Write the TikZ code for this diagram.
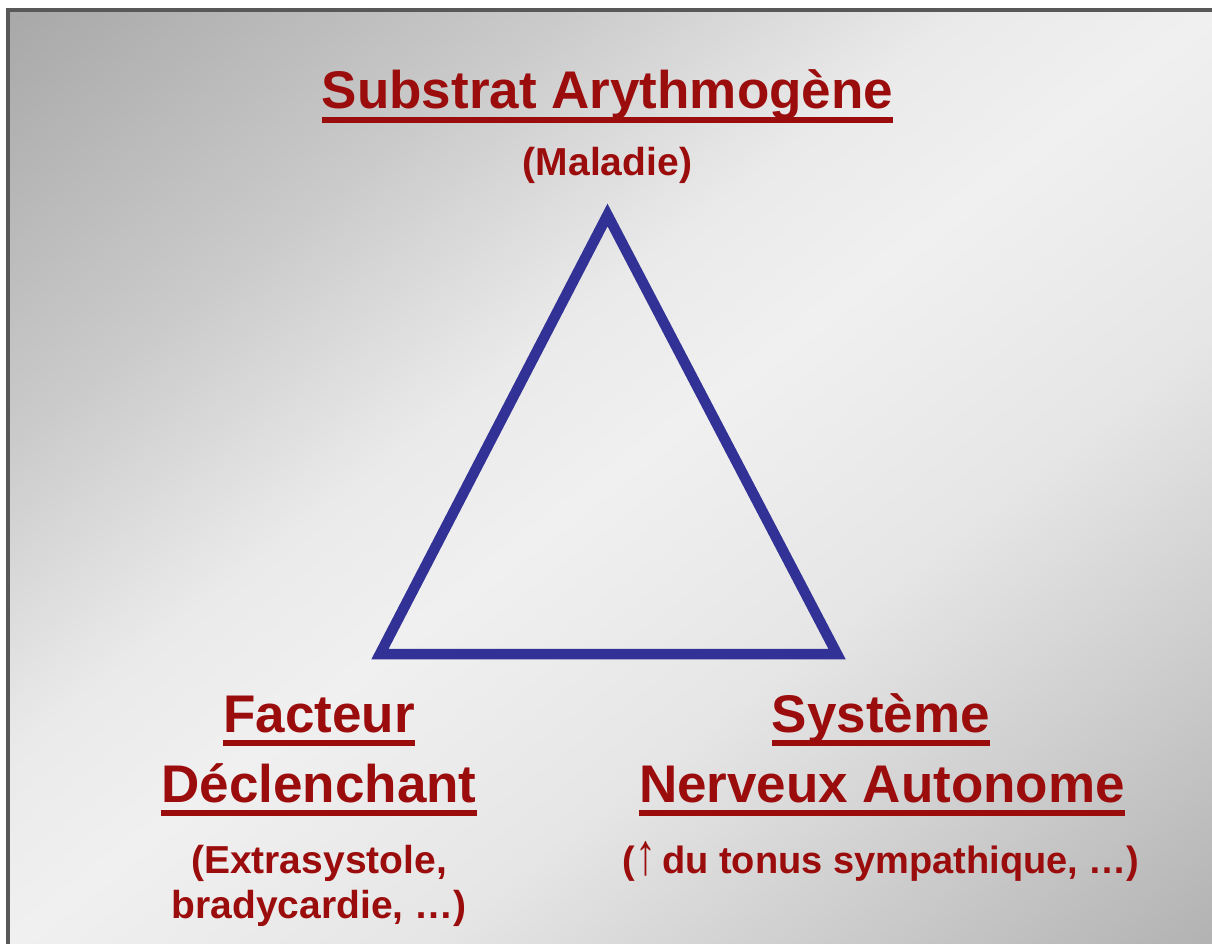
\documentclass[tikz,border=0pt]{standalone}
\usepackage{fontspec}
\setmainfont{Liberation Sans}
\definecolor{txtred}{RGB}{155,12,12}
\definecolor{triblue}{RGB}{50,50,150}
\definecolor{framegray}{RGB}{88,88,88}
\definecolor{g0}{RGB}{160,160,160}
\definecolor{g1}{RGB}{168,168,168}
\definecolor{g2}{RGB}{178,178,178}
\definecolor{g3}{RGB}{204,204,204}
\definecolor{g4}{RGB}{230,230,230}
\definecolor{g5}{RGB}{240,240,240}
\definecolor{g6}{RGB}{234,234,234}
\definecolor{g7}{RGB}{202,202,202}
\pgfdeclareverticalshading{slidebg}{2000bp}{color(0bp)=(g1); color(264bp)=(g2); color(500bp)=(g3); color(750bp)=(g4); color(1000bp)=(g5); color(1150bp)=(g6); color(1400bp)=(g7); color(1736bp)=(g1); color(2000bp)=(g0)}
\tikzset{
  bigtxt/.style={font=\bfseries\fontsize{53}{60}\selectfont, text=txtred, inner sep=0pt, anchor=base},
  smalltxt/.style={font=\bfseries\fontsize{39}{46}\selectfont, text=txtred, inner sep=0pt, anchor=base},
  uline/.style={draw=txtred, line width=6pt},
  tri/.style={draw=triblue, line width=10.5pt, line join=miter}
}
\newcommand{\ulnode}[1]{\draw[uline] ([yshift=-11pt]#1.base west) -- ([yshift=-11pt]#1.base east);}
\newcommand{\tallup}{\makebox[15pt]{\raisebox{-1pt}{\scalebox{1.1}[1.55]{↑}}}}
\begin{document}
\begin{tikzpicture}[x=1pt,y=-1pt]
\useasboundingbox (0,0) rectangle (1212,944);
\fill[white] (0,0) rectangle (1212,944);
\begin{scope}
  \clip (10,12) rectangle (1212,944);
  \node[inner sep=0pt, outer sep=0pt, rotate=37.8] (bgshade) at (611,478) {\pgfuseshading{slidebg}};
\end{scope}
\fill[framegray] (6,8) rectangle (1212,12);
\fill[framegray] (6,8) rectangle (10,944);
% triangle
\coordinate (A) at (607.5,215);
\coordinate (B) at (380,654);
\coordinate (C) at (837,654);
\draw[tri] (A) -- (B) -- (C) -- cycle;
% top
\node[bigtxt] (t1) at (607.5,109) {Substrat Arythmogène};
\ulnode{t1}
\node[smalltxt] (t2) at (607.5,176) {(Maladie)};
% left
\node[bigtxt] (l1) at (319,732) {Facteur};
\ulnode{l1}
\node[bigtxt] (l2) at (319,802) {Déclenchant};
\ulnode{l2}
\node[smalltxt] (l3) at (319,873) {(Extrasystole,};
\node[smalltxt] (l4) at (319,918) {bradycardie, …)};
% right
\node[bigtxt] (r1) at (881,732) {Système};
\ulnode{r1}
\node[bigtxt] (r2) at (882,802) {Nerveux Autonome};
\ulnode{r2}
\node[smalltxt, font=\bfseries\fontsize{38}{46}\selectfont] (r3) at (881,873) {(\hspace{3pt}\tallup\hspace{9pt}du tonus sympathique, …)};
\end{tikzpicture}
\end{document}
